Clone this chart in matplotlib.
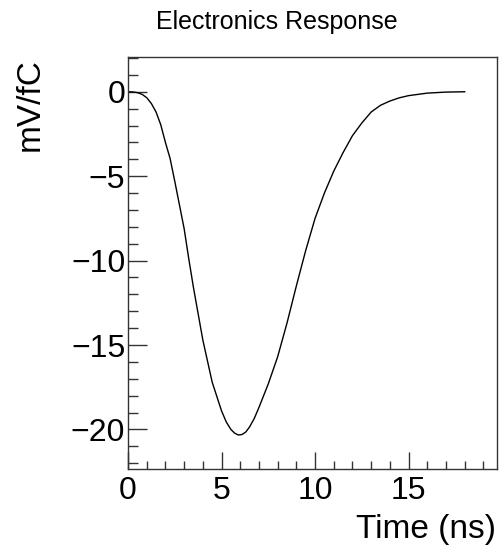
import numpy as np
import matplotlib.pyplot as plt
from matplotlib.ticker import MultipleLocator

# Electronics response (time in ns, response in mV/fC)
time_ns = [0.0, 0.25, 0.5, 0.75, 1.0, 1.25, 1.5, 1.75, 2.0, 2.25, 2.5, 2.75,
           3.0, 3.25, 3.5, 4.0, 4.5, 5.0, 5.25, 5.5, 5.7, 5.9, 6.1, 6.3, 6.5,
           6.75, 7.0, 7.5, 8.0, 8.5, 9.0, 9.5, 10.0, 10.5, 11.0, 11.5, 12.0,
           12.5, 13.0, 13.5, 14.0, 14.5, 15.0, 16.0, 17.0, 18.0]
response = [0.0, -0.01, -0.05, -0.15, -0.35, -0.7, -1.2, -1.95, -3.0, -3.95,
            -5.3, -6.7, -8.1, -9.9, -11.6, -14.7, -17.2, -18.9, -19.55, -20.0,
            -20.22, -20.33, -20.3, -20.15, -19.85, -19.35, -18.7, -17.3,
            -15.7, -13.7, -11.5, -9.4, -7.5, -6.0, -4.7, -3.6, -2.6, -1.85,
            -1.2, -0.8, -0.55, -0.36, -0.23, -0.08, -0.02, 0.0]

title = "Electronics Response"
xlabel = "Time (ns)"
ylabel = "mV/fC"

plt.rcParams['font.family'] = ['Liberation Sans', 'DejaVu Sans']

fig = plt.figure(figsize=(5.0, 5.47), dpi=100)
ax = fig.add_axes([0.256, 0.142, 0.737, 0.753])

ax.plot(time_ns, response, color='black', linewidth=1.0)

# ROOT-like axis range: 10% margin around the data
ymin = min(response)
ax.set_ylim(ymin * 1.1, -ymin * 0.1)
ax.set_xlim(0, 19.7)

ax.xaxis.set_major_locator(MultipleLocator(5))
ax.xaxis.set_minor_locator(MultipleLocator(1))
ax.yaxis.set_major_locator(MultipleLocator(5))
ax.yaxis.set_minor_locator(MultipleLocator(1))
ax.tick_params(which='both', direction='in', top=False, right=False,
               labelsize=23, color='#333333', width=1.0)
ax.tick_params(axis='x', which='major', length=12, pad=5)
ax.tick_params(axis='x', which='minor', length=6)
ax.tick_params(axis='y', which='major', length=14, pad=2)
ax.tick_params(axis='y', which='minor', length=7)
for sp in ax.spines.values():
    sp.set_linewidth(1.0)
    sp.set_color('#333333')

fig.text(0.554, 0.96, title, ha='center', va='center', fontsize=18)
fig.text(0.993, 0.0165, xlabel, ha='right', va='baseline', fontsize=24)
fig.text(0.06, 0.893, ylabel, ha='center', va='top', rotation=90, fontsize=24)

plt.savefig("out.png", dpi=100)
